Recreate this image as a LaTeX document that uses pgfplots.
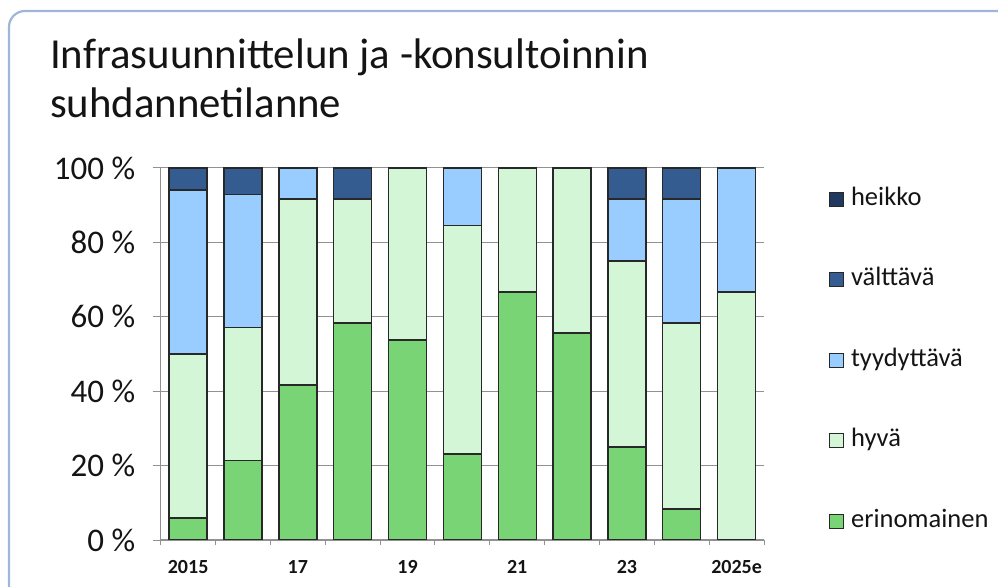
\documentclass[border=0pt]{standalone}
\usepackage{pgfplots}
\usepackage{pgfplotstable}
\pgfplotsset{compat=1.18}
\usepackage{fontspec}
\setmainfont{Carlito}
\definecolor{cHeikko}{RGB}{31,56,96}
\definecolor{cValt}{RGB}{52,92,145}
\definecolor{cTyyd}{RGB}{153,204,255}
\definecolor{cHyva}{RGB}{210,246,214}
\definecolor{cErin}{RGB}{120,212,116}
\definecolor{cEdge}{RGB}{40,40,40}
\definecolor{cGrid}{RGB}{145,145,145}
\definecolor{cBorder}{RGB}{160,182,214}
\definecolor{cText}{RGB}{20,20,20}

\pgfplotstableread{
x e h t v k
0 5.9 44.1 44.1 5.9 0
1 21.4 35.7 35.8 7.1 0
2 41.7 50.0 8.3 0 0
3 58.3 33.4 0 8.3 0
4 53.8 46.2 0 0 0
5 23.1 61.5 15.4 0 0
6 66.7 33.3 0 0 0
7 55.6 44.4 0 0 0
8 25.0 50.0 16.7 8.3 0
9 8.3 50.0 33.4 8.3 0
10 0 66.7 33.3 0 0
}\data

\begin{document}
\begin{tikzpicture}
\useasboundingbox (0bp,0bp) rectangle (998bp,587bp);
\begin{scope}
\clip (0bp,0bp) rectangle (998bp,587bp);
\draw[cBorder, line width=2.2bp, rounded corners=16bp] (9bp,-40bp) -- (9bp,576bp) -- (1040bp,576bp);
\end{scope}
\node[anchor=base west, inner sep=0pt, text=cText, font=\fontsize{42.8bp}{50bp}\selectfont] at (50bp,518.5bp) {Infrasuunnittelun ja -konsultoinnin};
\node[anchor=base west, inner sep=0pt, text=cText, font=\fontsize{42.8bp}{50bp}\selectfont] at (50bp,469.5bp) {suhdannetilanne};
\begin{axis}[
  at={(160.7bp,47bp)}, anchor=south west,
  width=603.3bp, height=372bp, scale only axis,
  xmin=-0.5, xmax=10.5, ymin=0, ymax=100,
  ybar stacked, bar width=38bp,
  axis x line*=bottom, axis y line*=left,
  axis line style={draw=cGrid, line width=1.4bp, -},
  ytick={0,20,40,60,80,100},
  yticklabels={0 \%,20 \%,40 \%,60 \%,80 \%,100 \%},
  ymajorgrids, grid style={cGrid, line width=1bp},
  tick align=outside,
  ytick style={draw=cGrid, line width=1bp},
  major tick length=8bp,
  xtick={0,...,10},
  xticklabels={2015,,17,,19,,21,,23,,2025e},
  major x tick style={draw=none},
  minor xtick={-0.5,0.5,...,10.5},
  minor x tick style={draw=cGrid, line width=1bp},
  minor tick length=5bp,
  yticklabel style={font=\fontsize{33bp}{38bp}\selectfont, text=cText, xshift=-14bp},
  xticklabel style={font=\bfseries\fontsize{20bp}{24bp}\selectfont, text=cText, yshift=-9bp},
  /pgf/number format/assume math mode=true,
  reverse legend,
  legend image code/.code={\draw[#1, draw=cEdge, line width=0.9bp] (0bp,-7bp) rectangle (14bp,7bp);},
  legend style={at={(1.1077,0.946)}, anchor=north west, draw=none, fill=none,
    inner sep=0pt, row sep=58.5bp, column sep=7bp,
    font=\fontsize{26.5bp}{31bp}\selectfont, text=cText,
    nodes={inner sep=0pt, text height=17bp, text depth=5bp}},
  legend cell align=left,
]
\addplot[fill=cErin, draw=cEdge, line width=1.4bp] table[x=x,y=e]{\data};
\addlegendentry{erinomainen}
\addplot[fill=cHyva, draw=cEdge, line width=1.4bp] table[x=x,y=h]{\data};
\addlegendentry{hyvä}
\addplot[fill=cTyyd, draw=cEdge, line width=1.4bp] table[x=x,y=t]{\data};
\addlegendentry{tyydyttävä}
\addplot[fill=cValt, draw=cEdge, line width=1.4bp] table[x=x,y=v]{\data};
\addlegendentry{välttävä}
\addplot[fill=cHeikko, draw=cEdge, line width=1.4bp] table[x=x,y=k]{\data};
\addlegendentry{heikko}
\end{axis}
\end{tikzpicture}
\end{document}
